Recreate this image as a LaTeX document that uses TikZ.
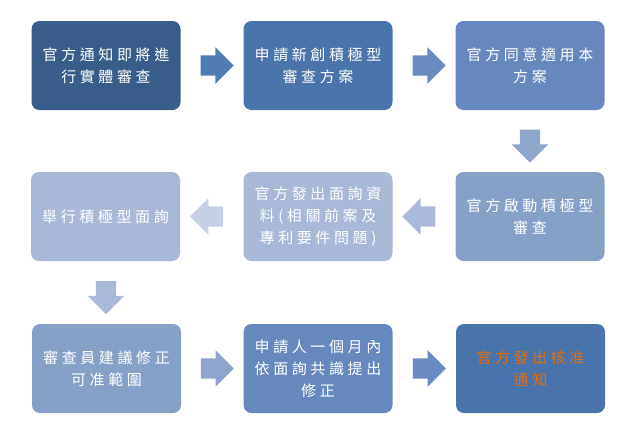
\documentclass[tikz,border=0pt]{standalone}
\usepackage{fontspec}
\newfontfamily\cjk[LetterSpace=24]{Noto Sans CJK TC}
\usetikzlibrary{shapes.arrows,calc}

\definecolor{boxA}{HTML}{385D8A}
\definecolor{boxB}{HTML}{4A74AC}
\definecolor{boxC}{HTML}{6788BE}
\definecolor{boxD}{HTML}{87A0C8}
\definecolor{boxE}{HTML}{A8B8D6}
\definecolor{arrA}{HTML}{4F7BB5}
\definecolor{arrB}{HTML}{6A8BC1}
\definecolor{arrC}{HTML}{8FA5CC}
\definecolor{arrD}{HTML}{A9B9D7}
\definecolor{arrE}{HTML}{C5D0E5}
\definecolor{okorange}{HTML}{E46C0A}

\begin{document}
\begin{tikzpicture}[x=1pt,y=-1pt,
    stage/.style={rounded corners=8pt, minimum width=149pt, minimum height=89pt,
        text=white, align=center, font={\cjk\fontsize{15}{22}\selectfont}},
    blockarrow/.style={single arrow, draw=none, inner sep=10pt, minimum height=33pt,
        single arrow head extend=8pt}]
        \useasboundingbox (0,0) rectangle (639,429);
        \fill[white] (0,0) rectangle (639,429);

        \node[stage, fill=boxA] (notify) at (106,65.5) {官方通知即將進\\行實體審查};
        \node[stage, fill=boxB] (apply) at (318,65.5) {申請新創積極型\\審查方案};
        \node[stage, fill=boxC] (agree) at (530,65.5) {官方同意適用本\\方案};
        \node[stage, fill=boxD] (start) at (530,216.5) {官方啟動積極型\\審查};
        \node[stage, fill=boxE] (material) at (318,216.5) {官方發出面詢資\\料(相關前案及\\專利要件問題)};
        \node[stage, fill=boxE] (interview) at (105.5,216.5) {舉行積極型面詢};
        \node[stage, fill=boxD] (suggest) at (106.5,368.5) {審查員建議修正\\可准範圍};
        \node[stage, fill=boxC] (amend) at (318,368.5) {申請人一個月內\\依面詢共識提出\\修正};
        \node[stage, fill=boxB, text=okorange] (allow) at (530.5,368.5) {官方發出核准\\通知};

        \node[blockarrow, fill=arrA] at ($(notify.east)!0.5!(apply.west)$) {};
        \node[blockarrow, fill=arrB] at ($(apply.east)!0.5!(agree.west)$) {};
        \node[blockarrow, fill=arrC, shape border rotate=270] at ($(agree.south)!0.5!(start.north)$) {};
        \node[blockarrow, fill=arrD, shape border rotate=180] at ($(start.west)!0.5!(material.east)$) {};
        \node[blockarrow, fill=arrE, shape border rotate=180] at ($(material.west)!0.5!(interview.east)$) {};
        \node[blockarrow, fill=arrD, shape border rotate=270] at ($(interview.south)!0.5!(suggest.north)$) {};
        \node[blockarrow, fill=arrC] at ($(suggest.east)!0.5!(amend.west)$) {};
        \node[blockarrow, fill=arrB] at ($(amend.east)!0.5!(allow.west)$) {};
    \end{tikzpicture}
\end{document}
